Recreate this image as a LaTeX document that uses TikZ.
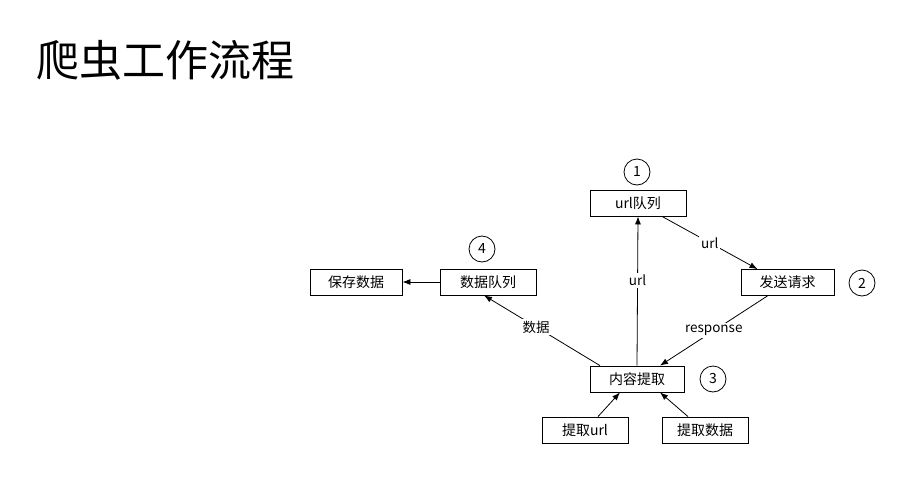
\documentclass[tikz,border=0pt]{standalone}
\usepackage{fontspec}
\setmainfont{Noto Sans CJK SC}
\usetikzlibrary{arrows.meta}
\begin{document}
\begin{tikzpicture}[x=1pt,y=-1pt,
	box/.style={draw,line width=0.8pt,minimum width=94pt,minimum height=26pt,inner sep=0pt,font=\fontsize{14}{16}\selectfont},
	num/.style={draw,circle,line width=0.8pt,minimum size=26pt,inner sep=0pt,font=\fontsize{14}{16}\selectfont},
	lab/.style={fill=white,inner sep=2pt,font=\fontsize{13.5}{16}\selectfont},
	arr/.style={line width=0.8pt,-{Latex[length=8pt,width=6pt]}}]
	    \useasboundingbox(0,0)rectangle(900,496);
	    \node[anchor=west,font=\fontsize{43}{48}\selectfont](title)at(33,60){爬虫工作流程};
	    % boxes
	    \node[box,minimum width=96pt](urlq)at(638,203){url队列};
	    \node[box,minimum width=93pt](send)at(787.5,282.5){发送请求};
	    \node[box,minimum width=94pt](extract)at(637,379){内容提取};
	    \node[box,minimum width=96pt](dataq)at(488,282){数据队列};
	    \node[box,minimum width=92pt](save)at(356,282){保存数据};
	    \node[box,minimum width=86pt](exurl)at(585,430){提取url};
	    \node[box,minimum width=86pt](exdata)at(705,430){提取数据};
	    % step numbers
	    \node[num](n1)at(637,172){1};
	    \node[num](n2)at(862,283){2};
	    \node[num](n3)at(713,379){3};
	    \node[num](n4)at(482,249){4};
	    % connectors
	    \draw[arr](extract.north)--node[lab,pos=0.57]{url}(urlq.south);
	    \draw[arr]([xshift=24pt]urlq.south)--node[lab]{url}([xshift=-30pt]send.north);
	    \draw[arr]([xshift=-20pt]send.south)--node[lab]{response}([xshift=23pt]extract.north);
	    \draw[arr]([xshift=-37pt]extract.north)--node[lab,pos=0.55]{数据}([xshift=-4pt]dataq.south);
	    \draw[arr](dataq.west)--(save.east);
	    \draw[arr]([xshift=13pt]exurl.north)--([xshift=-17pt]extract.south);
	    \draw[arr]([xshift=-17pt]exdata.north)--([xshift=23pt]extract.south);
\end{tikzpicture}
\end{document}
